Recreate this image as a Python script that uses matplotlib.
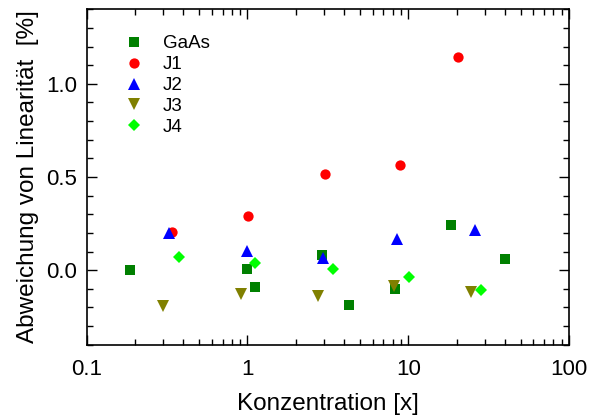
import matplotlib
matplotlib.use("Agg")
import matplotlib.pyplot as plt
from matplotlib.ticker import LogLocator, MultipleLocator, FixedLocator

gaas_x = [0.185, 1.0, 1.12, 2.92, 4.28, 8.27, 18.4, 39.9]
gaas_y = [0.0, 0.007, -0.09, 0.08, -0.186, -0.10, 0.241, 0.059]

j1_x = [0.337, 1.01, 3.02, 8.83, 20.5]
j1_y = [0.205, 0.293, 0.514, 0.562, 1.146]

j2_x = [0.324, 0.99, 2.95, 8.5, 26.2]
j2_y = [0.198, 0.103, 0.068, 0.166, 0.218]

j3_x = [0.30, 0.91, 2.76, 8.19, 24.5]
j3_y = [-0.19, -0.13, -0.136, -0.086, -0.118]

j4_x = [0.374, 1.12, 3.41, 10.1, 28.5]
j4_y = [0.071, 0.039, 0.007, -0.036, -0.104]

x_ticks = [0.1, 1, 10, 100]
x_ticklabels = ["0.1", "1", "10", "100"]
y_ticks = [0.0, 0.5, 1.0]

plt.rcParams['font.family'] = ['Liberation Sans', 'DejaVu Sans']

fig = plt.figure(figsize=(5.95, 4.19), dpi=100)
ax = fig.add_axes([0.1457, 0.1773, 0.8106, 0.8005])

ax.plot(gaas_x, gaas_y, 's', color='#008000', ms=6.8, mew=0, label='GaAs')
ax.plot(j1_x, j1_y, 'o', color='#ff0000', ms=7.4, mew=0, label='J1')
ax.plot(j2_x, j2_y, '^', color='#0000ff', ms=8.0, mew=0, label='J2')
ax.plot(j3_x, j3_y, 'v', color='#808000', ms=8.0, mew=0, label='J3')
ax.plot(j4_x, j4_y, 'D', color='#00ff00', ms=6.5, mew=0, label='J4')

ax.set_xscale('log')
ax.set_xlim(0.1, 100)
ax.set_ylim(-0.4, 1.4)

ax.xaxis.set_major_locator(FixedLocator(x_ticks))
ax.set_xticklabels(x_ticklabels)
ax.xaxis.set_minor_locator(LogLocator(base=10, subs=range(2, 10)))
ax.xaxis.set_minor_formatter(plt.NullFormatter())
ax.yaxis.set_major_locator(FixedLocator(y_ticks))
ax.set_yticklabels(["0.0", "0.5", "1.0"])
ax.yaxis.set_minor_locator(MultipleLocator(0.1))

ax.tick_params(which='both', direction='in', top=True, right=True, width=1.0)
ax.tick_params(which='major', length=7, labelsize=16)
ax.tick_params(axis='x', which='major', pad=10)
ax.tick_params(axis='y', which='major', pad=7)
ax.tick_params(which='minor', length=4)
for s in ax.spines.values():
    s.set_linewidth(1.2)

ax.set_xlabel("Konzentration [x]", fontsize=17.5, labelpad=10)
ax.set_ylabel("Abweichung von Linearität  [%]", fontsize=17.5, labelpad=5)

ax.legend(loc='upper left', frameon=False, fontsize=13.5, handletextpad=1.05,
          labelspacing=0.2, borderaxespad=0.0, bbox_to_anchor=(0.063, 0.945),
          handlelength=1.0)

fig.savefig("out.png", dpi=100)
